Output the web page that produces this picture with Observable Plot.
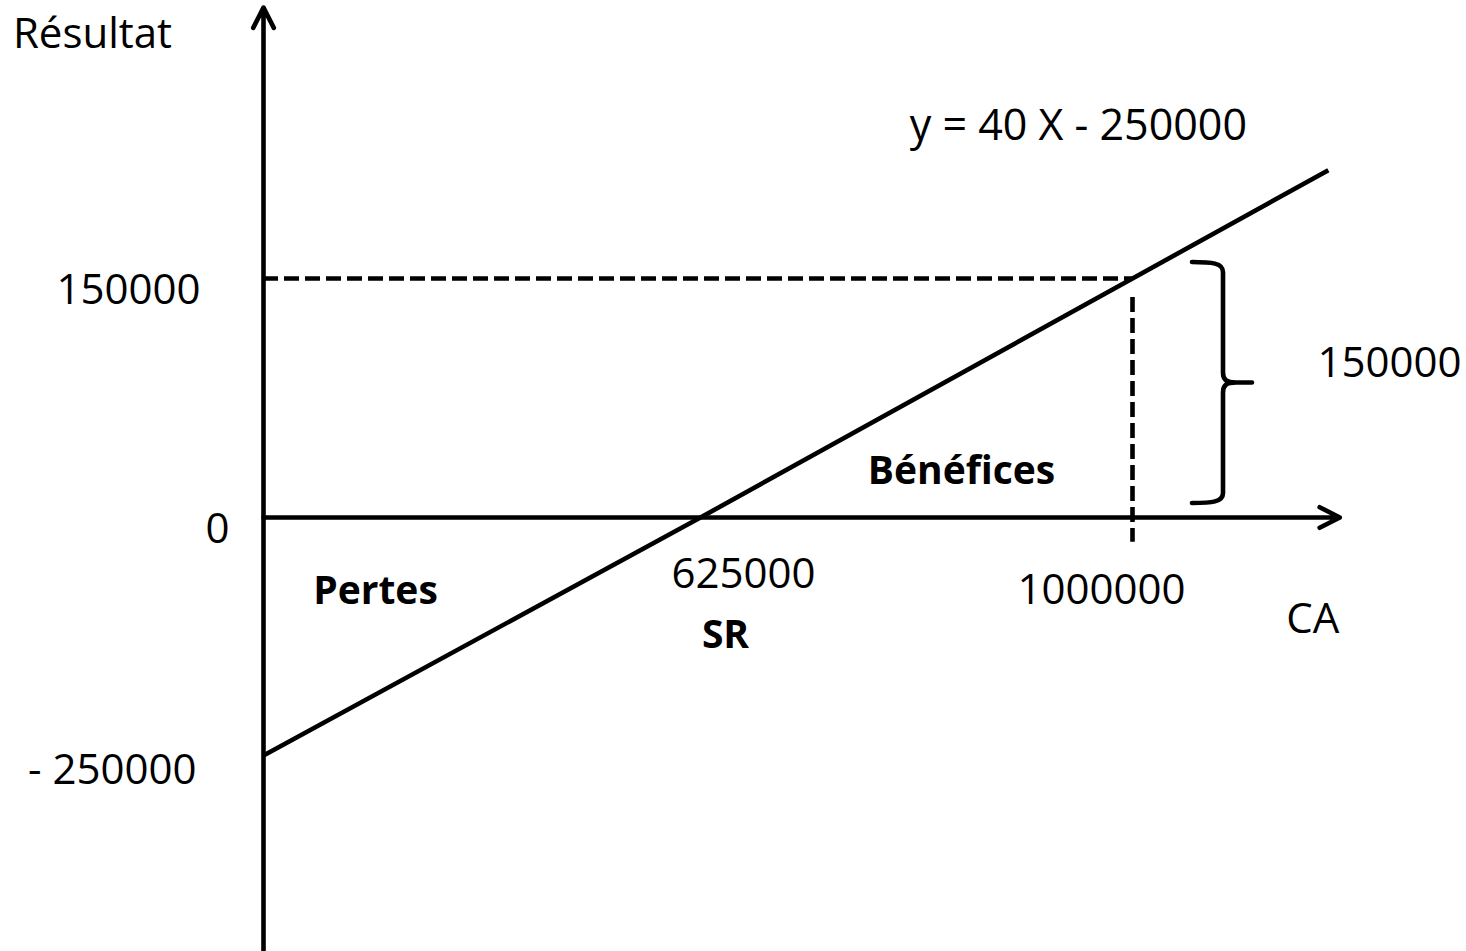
<!DOCTYPE html>
<html>
<head>
<meta charset="utf-8">
<script src="https://cdn.jsdelivr.net/npm/d3@7"></script>
<script src="https://cdn.jsdelivr.net/npm/@observablehq/plot@0.6"></script>
<style>
  html, body { margin: 0; padding: 0; background: #fff; }
  svg { display: block; }
</style>
</head>
<body>
<div id="chart"></div>
<script>
// ---- Data ----
const ca = [0, 625000, 1000000, 1170000];          // chiffre d'affaires
const resultat = [-250000, 0, 150000, 218000];     // y = 40 X - 250000
const seuil = 625000;                               // seuil de rentabilité (SR)
const caCible = 1000000;
const resCible = 150000;
const yTickValues = [150000, 0, -250000];
const yTickLabels = ["150000", "0", "- 250000"];
const xTickLabels = ["625000", "1000000"];
const equation = "y = 40 X - 250000";
const axisTitles = ["Résultat", "CA"];
const zoneLabels = ["Pertes", "Bénéfices", "SR"];
const braceLabel = "150000";
// axis extents
const xAxisEnd = 1180000;
const yAxisMin = -460000;
const yAxisMax = 320000;
const dropEnd = -26000;

const lineData = ca.map((c, i) => ({ca: c, r: resultat[i]}));

const FONT = "'Open Sans', sans-serif";
const FS = 42;
const SW = 4.6;

function label(text, x, y, opts) {
  return Plot.text([text], {
    x: () => x, y: () => y, text: d => d,
    fontFamily: FONT, fontSize: FS, fill: "black",
    lineAnchor: "bottom",
    ...opts
  });
}

const brace = (index, scales) => {
  const xb = scales.x(caCible);
  const top = scales.y(resCible) - 16;
  const bot = scales.y(0) - 14;
  const mid = (top + bot) / 2;
  const x0 = xb + 60, xv = xb + 91, xt = xb + 120;
  const p = d3.path();
  p.moveTo(x0, top);
  p.bezierCurveTo(x0 + 20, top, xv, top + 1, xv, top + 10);
  p.lineTo(xv, mid - 10);
  p.bezierCurveTo(xv, mid - 3, xv + 3, mid, xv + 13, mid);
  p.lineTo(xt, mid);
  p.moveTo(xv + 13, mid);
  p.bezierCurveTo(xv + 3, mid, xv, mid + 3, xv, mid + 10);
  p.lineTo(xv, bot - 10);
  p.bezierCurveTo(xv, bot - 1, x0 + 20, bot, x0, bot);
  const el = d3.create("svg:path")
    .attr("d", p.toString())
    .attr("fill", "none")
    .attr("stroke", "black")
    .attr("stroke-width", SW)
    .attr("stroke-linecap", "round")
    .attr("stroke-linejoin", "round");
  return el.node();
};

const chart = Plot.plot({
  width: 1466,
  height: 951,
  x: {type: "linear", domain: [0, seuil, caCible], range: [263, 700, 1132], axis: null},
  y: {type: "linear", domain: [-250000, 0, resCible], range: [755, 517, 278], axis: null},
  style: {background: "white"},
  marks: [
    // axes with arrows
    Plot.arrow([{x1: 0, y1: yAxisMin, x2: 0, y2: yAxisMax}], {
      x1: "x1", y1: "y1", x2: "x2", y2: "y2",
      stroke: "black", strokeWidth: SW, headLength: 7.4, headAngle: 54
    }),
    Plot.arrow([{x1: 0, y1: 0, x2: xAxisEnd, y2: 0}], {
      x1: "x1", y1: "y1", x2: "x2", y2: "y2",
      stroke: "black", strokeWidth: SW, headLength: 7.4, headAngle: 54
    }),
    // dashed guides
    Plot.ruleY([resCible], {x1: 0, x2: caCible, stroke: "black", strokeWidth: SW, strokeDasharray: "15,6"}),
    Plot.ruleX([caCible], {y1: resCible * 0.92, y2: dropEnd, stroke: "black", strokeWidth: SW, strokeDasharray: "15,6"}),
    // result line
    Plot.line(lineData, {x: "ca", y: "r", stroke: "black", strokeWidth: SW, strokeLinecap: "butt"}),
    // brace
    brace,
    // y tick labels
    label(yTickLabels[0], 0, yTickValues[0], {textAnchor: "end", dx: -63, dy: 25}),
    label(yTickLabels[1], 0, yTickValues[1], {textAnchor: "end", dx: -34, dy: 25}),
    label(yTickLabels[2], 0, yTickValues[2], {textAnchor: "end", dx: -67, dy: 28}),
    // x tick labels
    label(xTickLabels[0], seuil, 0, {textAnchor: "middle", dx: 43, dy: 70}),
    label(xTickLabels[1], caCible, 0, {textAnchor: "middle", dx: -31, dy: 86}),
    // axis titles
    label(axisTitles[0], 0, yAxisMax, {textAnchor: "middle", dx: -171, dy: 40}),
    label(axisTitles[1], xAxisEnd, 0, {textAnchor: "middle", dx: -27, dy: 115}),
    // equation
    label(equation, ca[3], resultat[3], {textAnchor: "middle", dx: -250, dy: -30, fontSize: 43}),
    // zone labels
    label(zoneLabels[0], 0, 0, {textAnchor: "middle", dx: 112, dy: 86, fontWeight: "bold", fontSize: 39}),
    label(zoneLabels[1], caCible, 0, {textAnchor: "middle", dx: -171, dy: -34, fontWeight: "bold", fontSize: 39}),
    label(zoneLabels[2], seuil, 0, {textAnchor: "middle", dx: 25, dy: 130, fontWeight: "bold", fontSize: 39}),
    // brace label
    label(braceLabel, caCible, resCible / 2, {textAnchor: "middle", dx: 257, dy: -21})
  ]
});

document.getElementById("chart").appendChild(chart);
</script>
</body>
</html>
